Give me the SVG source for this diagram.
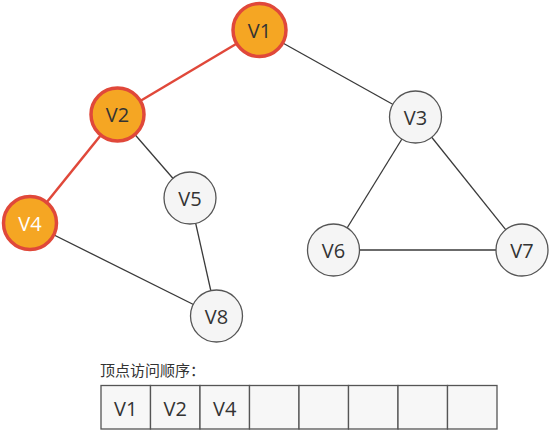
<svg xmlns="http://www.w3.org/2000/svg" width="550" height="431" viewBox="0 0 550 431">
<style>
.e{stroke:#3a3a3a;stroke-width:1.3;fill:none}
.r{stroke:#E0483A;stroke-width:2.5;fill:none}
.n{fill:#F5F5F5;stroke:#555;stroke-width:1.3}
.v{fill:#F5A623;stroke:#E0483A;stroke-width:3.5}
.t{font-family:"Open Sans","Noto Sans",sans-serif;font-size:20px;fill:#333;text-anchor:middle;dominant-baseline:central}
.w{fill:#fff}
.c{fill:#F7F7F7;stroke:#555;stroke-width:1.3}
.h{font-family:"Noto Sans CJK SC","Noto Sans",sans-serif;font-size:15px;fill:#333}
</style>
<rect width="550" height="431" fill="#fff"/>
<g id="edges">
<line class="e" x1="259.5" y1="30" x2="415.5" y2="117"/>
<line class="e" x1="117.5" y1="114.5" x2="190" y2="198"/>
<line class="e" x1="190" y1="198" x2="216.5" y2="316"/>
<line class="e" x1="30" y1="223" x2="216.5" y2="316"/>
<line class="e" x1="415.5" y1="117" x2="333.5" y2="250"/>
<line class="e" x1="415.5" y1="117" x2="522" y2="250"/>
<line class="e" x1="333.5" y1="250" x2="522" y2="250"/>
<line class="r" x1="259.5" y1="30" x2="117.5" y2="114.5"/>
<line class="r" x1="117.5" y1="114.5" x2="30" y2="223"/>
</g>
<g id="V1"><circle class="v" cx="259.5" cy="30" r="26.5"/><text class="t" x="259.5" y="30">V1</text></g>
<g id="V2"><circle class="v" cx="117.5" cy="114.5" r="26.5"/><text class="t" x="117.5" y="114.5">V2</text></g>
<g id="V4"><circle class="v" cx="30" cy="223" r="26.5"/><text class="t w" x="30" y="223">V4</text></g>
<g id="V3"><circle class="n" cx="415.5" cy="117" r="26"/><text class="t" x="415.5" y="117">V3</text></g>
<g id="V5"><circle class="n" cx="190" cy="198" r="26"/><text class="t" x="190" y="198">V5</text></g>
<g id="V6"><circle class="n" cx="333.5" cy="250" r="26"/><text class="t" x="333.5" y="250">V6</text></g>
<g id="V7"><circle class="n" cx="522" cy="250" r="26"/><text class="t" x="522" y="250">V7</text></g>
<g id="V8"><circle class="n" cx="216.5" cy="316" r="26"/><text class="t" x="216.5" y="316">V8</text></g>
<g id="order">
<text class="h" x="100" y="376">顶点访问顺序：</text>
<rect class="c" x="101" y="385.5" width="49.5" height="43.5"/>
<rect class="c" x="150.5" y="385.5" width="49.5" height="43.5"/>
<rect class="c" x="200" y="385.5" width="49.5" height="43.5"/>
<rect class="c" x="249.5" y="385.5" width="49.5" height="43.5"/>
<rect class="c" x="299" y="385.5" width="49.5" height="43.5"/>
<rect class="c" x="348.5" y="385.5" width="49.5" height="43.5"/>
<rect class="c" x="398" y="385.5" width="49.5" height="43.5"/>
<rect class="c" x="447.5" y="385.5" width="49.5" height="43.5"/>
<text class="t" x="125.75" y="408">V1</text>
<text class="t" x="175.25" y="408">V2</text>
<text class="t" x="224.75" y="408">V4</text>
</g>
</svg>
